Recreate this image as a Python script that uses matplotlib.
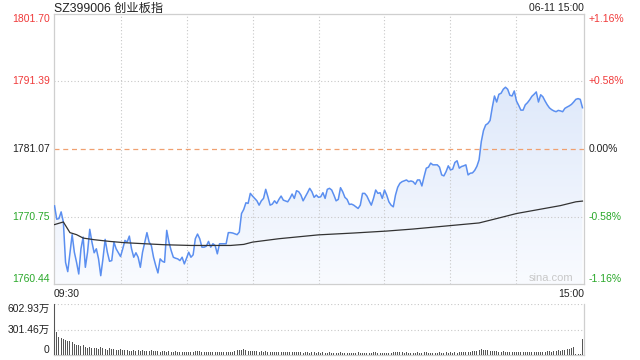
import numpy as np
import matplotlib
matplotlib.use('Agg')
import matplotlib.pyplot as plt
from matplotlib.patches import Polygon
import matplotlib.transforms as mtransforms

plt.rcParams['font.family'] = ['Liberation Sans', 'Noto Sans CJK SC', 'DejaVu Sans']

# price data (minute index from 09:30, 0..240)
minutes = [0, 1, 2, 3, 4, 5, 6, 7, 8, 9, 10, 11, 12, 13, 14, 15, 16, 17, 18, 19,
           20, 21, 22, 23, 24, 25, 26, 27, 28, 30, 31, 32, 33, 34, 35, 36, 37, 38, 39, 40,
           42, 43, 44, 45, 46, 47, 48, 49, 50, 51, 52, 53, 54, 55, 56, 57, 58, 59, 60, 61,
           62, 63, 64, 65, 66, 67, 68, 69, 70, 71, 72, 73, 74, 75, 76, 78, 79, 80, 81, 83,
           84, 85, 86, 87, 88, 89, 90, 91, 92, 93, 94, 95, 96, 97, 98, 99, 100, 101, 102, 103,
           104, 106, 107, 108, 109, 110, 111, 112, 113, 114, 115, 116, 117, 118, 119, 120, 121, 122, 123, 124,
           125, 126, 127, 128, 129, 130, 131, 132, 133, 134, 135, 136, 137, 138, 139, 140, 141, 142, 143, 144,
           145, 146, 147, 148, 149, 150, 151, 152, 153, 154, 155, 156, 157, 158, 160, 161, 162, 163, 164, 165,
           166, 167, 168, 169, 170, 171, 172, 174, 175, 176, 177, 178, 179, 180, 181, 182, 183, 184, 185, 186,
           187, 188, 189, 190, 191, 192, 193, 194, 195, 196, 197, 198, 199, 200, 201, 202, 203, 204, 205, 206,
           207, 208, 209, 210, 211, 212, 213, 214, 215, 216, 217, 218, 219, 220, 221, 222, 223, 224, 225, 226,
           227, 228, 229, 230, 231, 232, 233, 234, 235, 236, 237, 238, 239, 240]
price = [1772.38, 1770.34, 1770.44, 1771.46, 1769.92, 1763.76, 1762.33, 1765.10, 1767.98, 1765.30,
         1763.76, 1761.97, 1765.82, 1767.61, 1762.99, 1765.30, 1768.80, 1766.84, 1765.21, 1765.82,
         1764.28, 1761.71, 1764.28, 1767.26, 1765.30, 1763.91, 1764.02, 1766.84, 1765.82, 1764.64,
         1765.82, 1767.10, 1766.84, 1767.76, 1765.82, 1764.53, 1765.21, 1764.53, 1762.99, 1765.30,
         1768.29, 1766.84, 1766.33, 1764.53, 1763.25, 1762.13, 1764.28, 1763.91, 1763.76, 1768.64,
         1766.84, 1765.56, 1764.53, 1764.38, 1764.28, 1764.02, 1764.53, 1763.51, 1764.38, 1765.30,
         1764.53, 1764.90, 1767.36, 1768.07, 1767.36, 1766.07, 1766.07, 1766.22, 1766.95, 1766.07,
         1766.59, 1766.33, 1765.05, 1766.59, 1766.59, 1766.59, 1768.29, 1768.29, 1768.23, 1767.98,
         1768.38, 1771.21, 1771.83, 1772.85, 1772.76, 1774.29, 1773.88, 1773.52, 1773.15, 1772.49,
         1773.15, 1773.52, 1774.91, 1773.77, 1772.49, 1772.65, 1773.15, 1772.75, 1773.37, 1773.88,
         1773.26, 1773.00, 1773.52, 1774.19, 1773.52, 1774.69, 1774.54, 1774.03, 1773.15, 1773.77,
         1774.39, 1775.06, 1774.54, 1773.68, 1774.03, 1773.68, 1773.77, 1774.39, 1773.52, 1774.91,
         1775.06, 1774.80, 1774.03, 1773.15, 1773.37, 1775.16, 1774.54, 1773.68, 1773.37, 1772.60,
         1772.65, 1772.49, 1772.23, 1771.98, 1772.49, 1774.29, 1774.29, 1773.88, 1773.15, 1772.49,
         1773.52, 1774.80, 1774.29, 1774.39, 1773.52, 1774.80, 1774.03, 1773.00, 1772.49, 1772.23,
         1774.03, 1775.22, 1775.83, 1776.08, 1776.34, 1776.08, 1776.19, 1776.08, 1775.68, 1776.34,
         1776.34, 1775.42, 1776.85, 1778.14, 1778.30, 1778.91, 1778.65, 1778.65, 1778.30, 1777.11,
         1776.96, 1777.62, 1778.50, 1777.88, 1777.99, 1779.01, 1779.27, 1778.14, 1778.39, 1778.50,
         1778.65, 1777.11, 1777.37, 1777.42, 1777.80, 1778.42, 1779.42, 1782.19, 1783.89, 1784.74,
         1784.97, 1785.43, 1787.43, 1789.17, 1788.25, 1789.43, 1789.59, 1790.20, 1790.51, 1790.20,
         1789.28, 1789.17, 1789.94, 1788.40, 1787.74, 1787.01, 1787.01, 1787.82, 1788.15, 1788.59,
         1789.12, 1789.43, 1789.79, 1788.25, 1789.36, 1789.05, 1788.40, 1787.82, 1787.35, 1787.08,
         1786.89, 1786.77, 1786.97, 1786.89, 1786.77, 1787.28, 1787.48, 1787.66, 1787.89, 1788.25,
         1788.66, 1788.77, 1788.66, 1787.38]

# average price line
avg_minutes = [0, 4, 7, 10, 13, 18, 25, 32, 41, 50, 62, 80, 86, 90, 102, 120, 136, 151, 163, 193, 201, 210, 230, 237, 240]
avg_price = [1769.52, 1769.92, 1768.29, 1767.98, 1767.46, 1767.21, 1766.95, 1766.75, 1766.59, 1766.44,
             1766.33, 1766.33, 1766.49, 1766.84, 1767.36, 1767.95, 1768.23, 1768.53, 1768.84, 1769.77,
             1770.44, 1771.21, 1772.42, 1773.00, 1773.11]

# volume per minute, in 万
volume = [603, 275, 216, 205, 189, 177, 170, 160, 150, 130, 123, 123, 110, 115, 100, 83, 90, 88, 85, 88,
          75, 90, 80, 70, 65, 85, 72, 68, 60, 62, 70, 58, 55, 60, 52, 50, 62, 48, 55, 50,
          58, 52, 48, 45, 55, 42, 50, 45, 40, 48, 42, 38, 45, 40, 36, 42, 38, 35, 40, 36,
          38, 34, 40, 36, 45, 50, 42, 38, 35, 40, 36, 33, 38, 35, 32, 36, 40, 38, 35, 33,
          36, 40, 45, 55, 65, 60, 70, 58, 52, 48, 45, 50, 42, 40, 45, 38, 42, 36, 40, 38,
          35, 38, 34, 36, 32, 35, 30, 33, 36, 32, 30, 34, 31, 29, 33, 30, 28, 32, 30, 29,
          30, 28, 32, 29, 27, 30, 28, 26, 29, 27, 30, 28, 26, 29, 27, 25, 28, 26, 30, 27,
          29, 26, 28, 25, 27, 30, 32, 28, 26, 29, 27, 25, 28, 26, 30, 33, 35, 32, 30, 28,
          30, 27, 29, 26, 28, 30, 27, 29, 32, 30, 28, 27, 29, 26, 28, 30, 27, 29, 31, 28,
          30, 28, 32, 29, 30, 33, 31, 35, 40, 38, 42, 45, 50, 62, 70, 65, 58, 55, 50, 48,
          45, 42, 40, 38, 42, 36, 38, 35, 40, 37, 35, 38, 34, 36, 33, 35, 38, 34, 36, 33,
          35, 38, 40, 36, 42, 45, 40, 48, 52, 55, 50, 58, 62, 68, 75, 85, 95, 10, 8, 8,
          190]

prev_close = 1781.07
price_ticks = [1801.70, 1791.39, 1781.07, 1770.75, 1760.44]
pct_labels = ['+1.16%', '+0.58%', '0.00%', '-0.58%', '-1.16%']
vol_ticks = [602.93, 301.46, 0]
vol_labels = ['602.93万', '301.46万', '0']

red = '#f03a3a'
green = '#2aa82a'
grid_c = '#c8c8c8'
border_c = '#cfcfcf'

fig = plt.figure(figsize=(6.4, 3.6), dpi=100)
ax = fig.add_axes([54 / 640, 1 - 284 / 360, 530 / 640, 270 / 360])
axv = fig.add_axes([54 / 640, 1 - 355 / 360, 530 / 640, 51 / 360])

xmin, xmax = -0.25, 240.7
ymin, ymax = price_ticks[-1], price_ticks[0]

# gradient fill under the price line
grad = np.linspace(1, 0, 200).reshape(-1, 1)
cmap = matplotlib.colors.LinearSegmentedColormap.from_list('g', ['#f9fbff', '#d5e2f8'])
img = ax.imshow(grad, extent=[xmin, xmax, ymin, ymax], aspect='auto', cmap=cmap,
                origin='upper', zorder=1)
verts = list(zip(minutes, price)) + [(minutes[-1], ymin), (minutes[0], ymin)]
clip = Polygon(verts, closed=True, transform=ax.transData, facecolor='none', edgecolor='none')
ax.add_patch(clip)
img.set_clip_path(clip)

ax.plot(minutes, price, color='#5b8ff0', lw=1.1, zorder=4)
ax.plot(avg_minutes, avg_price, color='#333333', lw=0.9, zorder=5)

# grid
for t in range(30, 240, 30):
    ax.axvline(t, color=grid_c, lw=0.8, ls=(0, (1, 2)), zorder=2)
for p in price_ticks[1:-1]:
    if p == prev_close:
        ax.axhline(p, color='#f0a070', lw=0.9, ls=(0, (4, 3)), zorder=2)
    else:
        ax.axhline(p, color=grid_c, lw=0.8, ls=(0, (1, 2)), zorder=2)

ax.set_xlim(xmin, xmax)
ax.set_ylim(ymin, ymax)
ax.set_xticks([])
ax.set_yticks([])
for s in ax.spines.values():
    s.set_color(border_c)
    s.set_linewidth(0.9)

# price axis labels
trans = mtransforms.blended_transform_factory(ax.transAxes, ax.transData)
fs = 7.5
for i, p in enumerate(price_ticks):
    c = red if p > prev_close else (green if p < prev_close else '#222222')
    va = 'top' if i == 0 else ('bottom' if i == len(price_ticks) - 1 else 'center')
    ax.text(-0.008, p, f'{p:.2f}', transform=trans, ha='right', va=va, color=c, fontsize=fs)
    ax.text(1.008, p, pct_labels[i], transform=trans, ha='left', va=va, color=c, fontsize=fs)

ax.text(0.0, 1.02, 'SZ399006 创业板指', transform=ax.transAxes, ha='left', va='center',
        fontsize=8.8, color='#222222')
ax.text(1.0, 1.022, '06-11 15:00', transform=ax.transAxes, ha='right', va='center',
        fontsize=7.5, color='#222222')
ax.text(0.0, -0.02, '09:30', transform=ax.transAxes, ha='left', va='top', fontsize=fs, color='#222222')
ax.text(1.0, -0.02, '15:00', transform=ax.transAxes, ha='right', va='top', fontsize=fs, color='#222222')
ax.text(0.979, 0.003, 'sina.com', transform=ax.transAxes, ha='right', va='bottom',
        fontsize=8, color='#c8c8c8', zorder=6)

# volume panel
axv.bar(range(len(volume)), volume, width=0.5, color='#555555', zorder=3)
axv.set_xlim(xmin, xmax)
axv.set_ylim(0, vol_ticks[0])
for v in vol_ticks[:2]:
    axv.axhline(v, color=grid_c, lw=0.8, ls=(0, (1, 2)), zorder=2)
axv.set_xticks([])
axv.set_yticks([])
axv.spines['top'].set_visible(False)
for k in ['left', 'right', 'bottom']:
    axv.spines[k].set_color(border_c)
    axv.spines[k].set_linewidth(0.9)
vtrans = mtransforms.blended_transform_factory(axv.transAxes, axv.transData)
for i, v in enumerate(vol_ticks):
    va = 'top' if i == 0 else ('bottom' if i == len(vol_ticks) - 1 else 'center')
    axv.text(-0.008, v, vol_labels[i], transform=vtrans, ha='right', va=va, fontsize=fs, color='#222222')

fig.savefig('out.png', dpi=100)
